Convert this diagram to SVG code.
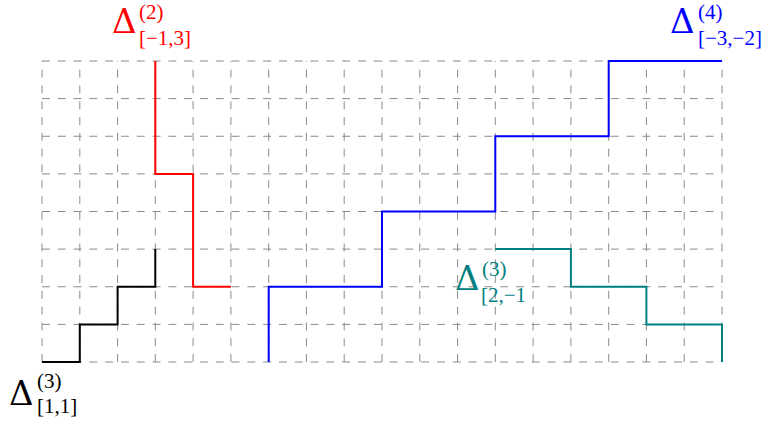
<svg xmlns="http://www.w3.org/2000/svg" width="769" height="427" viewBox="0 0 769 427">
<style>
.grid line{stroke:#8a8a8a;stroke-width:1;stroke-dasharray:7.9 7.9;fill:none}
.p{fill:none;stroke-width:2;stroke-linejoin:miter}
text{font-family:'Liberation Serif','Times New Roman','DejaVu Serif',serif}
.big{font-size:34px;font-family:'DejaVu Serif','Liberation Serif',serif}
.sm{font-size:21px}
</style>
<rect width="769" height="427" fill="#ffffff"/>
<g id="grid" class="grid">
<line x1="42" y1="61" x2="722" y2="61"/>
<line x1="42" y1="98.6" x2="722" y2="98.6"/>
<line x1="42" y1="136.25" x2="722" y2="136.25"/>
<line x1="42" y1="173.9" x2="722" y2="173.9"/>
<line x1="42" y1="211.5" x2="722" y2="211.5"/>
<line x1="42" y1="249.1" x2="722" y2="249.1"/>
<line x1="42" y1="286.75" x2="722" y2="286.75"/>
<line x1="42" y1="324.4" x2="722" y2="324.4"/>
<line x1="42" y1="362" x2="722" y2="362"/>
<line x1="42" y1="362" x2="42" y2="61"/>
<line x1="79.8" y1="362" x2="79.8" y2="61"/>
<line x1="117.6" y1="362" x2="117.6" y2="61"/>
<line x1="155.3" y1="362" x2="155.3" y2="61"/>
<line x1="193.1" y1="362" x2="193.1" y2="61"/>
<line x1="230.9" y1="362" x2="230.9" y2="61"/>
<line x1="268.7" y1="362" x2="268.7" y2="61"/>
<line x1="306.4" y1="362" x2="306.4" y2="61"/>
<line x1="344.2" y1="362" x2="344.2" y2="61"/>
<line x1="382" y1="362" x2="382" y2="61"/>
<line x1="419.8" y1="362" x2="419.8" y2="61"/>
<line x1="457.6" y1="362" x2="457.6" y2="61"/>
<line x1="495.3" y1="362" x2="495.3" y2="61"/>
<line x1="533.1" y1="362" x2="533.1" y2="61"/>
<line x1="570.9" y1="362" x2="570.9" y2="61"/>
<line x1="608.7" y1="362" x2="608.7" y2="61"/>
<line x1="646.4" y1="362" x2="646.4" y2="61"/>
<line x1="684.2" y1="362" x2="684.2" y2="61"/>
<line x1="722" y1="362" x2="722" y2="61"/>
</g>
<g id="connectors">
<path id="black-path" class="p" stroke="#000000" d="M42,362 H79.8 V324.4 H117.6 V286.75 H155.3 V249.1"/>
<path id="red-path" class="p" stroke="#ff0000" d="M155.3,61 V173.9 H193.1 V286.75 H230.9"/>
<path id="blue-path" class="p" stroke="#0000ff" d="M268.7,362 V286.75 H382 V211.5 H495.3 V136.25 H608.7 V61 H722"/>
<path id="teal-path" class="p" stroke="#008080" d="M495.3,249.1 H570.9 V286.75 H646.4 V324.4 H722 V362"/>
</g>
<g id="label-black" fill="#000000">
<text class="big" x="9" y="405">Δ</text>
<text class="sm" x="37" y="388">(3)</text>
<text class="sm" x="37" y="413">[1,1]</text>
</g>
<g id="label-red" fill="#ff0000">
<text class="big" x="112" y="33">Δ</text>
<text class="sm" x="139" y="19">(2)</text>
<text class="sm" x="139" y="45">[−1,3]</text>
</g>
<g id="label-blue" fill="#0000ff">
<text class="big" x="670" y="33">Δ</text>
<text class="sm" x="698" y="19">(4)</text>
<text class="sm" x="698" y="45">[−3,−2]</text>
</g>
<g id="label-teal" fill="#008080">
<text class="big" x="455" y="290">Δ</text>
<text class="sm" x="482" y="276">(3)</text>
<text class="sm" x="481" y="302">[2,−1</text>
</g>
</svg>
